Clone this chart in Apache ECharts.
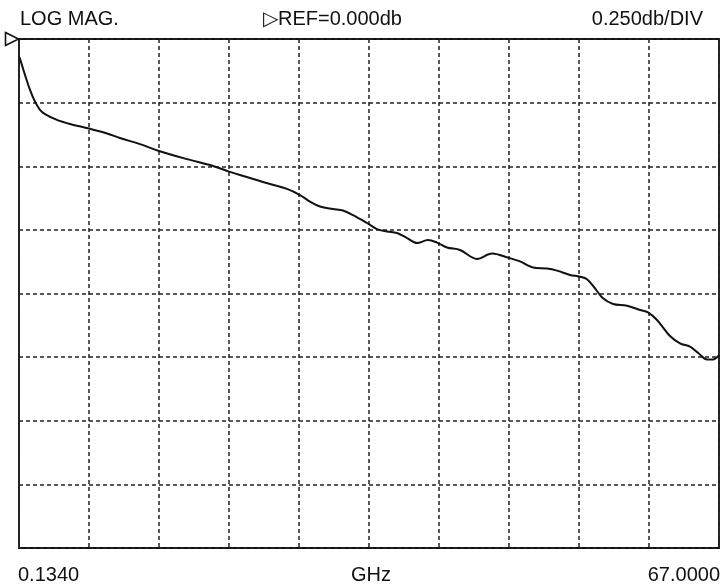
<!DOCTYPE html>
<html>
<head>
<meta charset="utf-8">
<script src="https://cdn.jsdelivr.net/npm/echarts@6/dist/echarts.min.js"></script>
<style>
  html, body { margin: 0; padding: 0; background: #fff; }
  #chart { width: 721px; height: 585px; }
</style>
</head>
<body>
<div id="chart"></div>
<script>
// Frequency (GHz) of trace samples
var freqGHz = [0.134, 0.230, 0.707, 1.185, 1.662, 2.140, 2.618, 3.764, 5.006, 6.821, 8.540, 9.782,
  11.692, 13.507, 16.182, 18.665, 20.194, 22.200, 24.110, 25.734, 26.976, 27.931, 28.886,
  30.128, 31.083, 32.039, 33.376, 34.331, 35.286, 36.242, 37.197, 38.152, 39.203, 40.063,
  41.018, 42.260, 43.883, 45.316, 46.844, 47.991, 49.233, 50.570, 51.525, 52.767, 53.722,
  54.391, 55.155, 55.919, 56.874, 58.212, 59.454, 60.218, 61.078, 62.320, 63.274, 64.230,
  64.994, 65.854, 66.427, 67.000];
// Magnitude (dB) of trace samples
var magDB = [-0.070, -0.078, -0.141, -0.200, -0.246, -0.278, -0.295, -0.318, -0.334, -0.352, -0.371, -0.389,
  -0.413, -0.440, -0.472, -0.499, -0.521, -0.546, -0.570, -0.589, -0.613, -0.639, -0.658,
  -0.668, -0.674, -0.692, -0.723, -0.747, -0.756, -0.762, -0.782, -0.802, -0.790, -0.800,
  -0.819, -0.829, -0.864, -0.843, -0.859, -0.874, -0.898, -0.902, -0.910, -0.927, -0.934,
  -0.944, -0.980, -1.019, -1.041, -1.048, -1.065, -1.074, -1.104, -1.167, -1.196, -1.209,
  -1.233, -1.259, -1.259, -1.242];
// Axis settings
var freqStart = 0.134, freqStop = 67.0;
var refLevel = 0.0, dbPerDiv = 0.25, yDivs = 8, xDivs = 10;
// Texts
var topLeftText = 'LOG MAG.';
var topCenterText = '\u25B7REF=0.000db';
var topRightText = '0.250db/DIV';
var bottomLeftText = '0.1340';
var bottomCenterText = 'GHz';
var bottomRightText = '67.0000';

var points = freqGHz.map(function (f, i) { return [f, magDB[i]]; });
var FONT = '"Liberation Sans", Arial, Helvetica, sans-serif';
var gridLine = { show: true, lineStyle: { color: '#222', width: 1.5, type: [4, 3] } };

var chart = echarts.init(document.getElementById('chart'), null, { renderer: 'canvas' });
chart.setOption({
  backgroundColor: '#ffffff',
  animation: false,
  grid: { left: 19, top: 39, width: 700, height: 509, show: true, borderColor: '#111', borderWidth: 1.8, backgroundColor: 'transparent' },
  xAxis: [
    { type: 'value', min: freqStart, max: freqStop, position: 'bottom',
      axisLine: { show: false }, axisTick: { show: false }, axisLabel: { show: false }, splitLine: { show: false } },
    { type: 'value', min: 0, max: xDivs, interval: 1, position: 'top',
      axisLine: { show: false }, axisTick: { show: false }, axisLabel: { show: false }, splitLine: gridLine }
  ],
  yAxis: {
    type: 'value', min: refLevel - dbPerDiv * yDivs, max: refLevel, interval: dbPerDiv,
    axisLine: { show: false }, axisTick: { show: false }, axisLabel: { show: false }, splitLine: gridLine
  },
  series: [{
    type: 'line', xAxisIndex: 0, data: points, showSymbol: false, smooth: 0.35,
    lineStyle: { color: '#111', width: 2 },
    markPoint: {
      symbol: 'path://M0,0 L12,6 L0,12 Z', symbolSize: [13, 13], symbolOffset: [-7, 0],
      itemStyle: { color: '#fff', borderColor: '#111', borderWidth: 1.6 },
      label: { show: false },
      data: [{ coord: [freqStart, refLevel] }]
    }
  }],
  graphic: [
    { type: 'text', left: 20, top: 9, style: { text: topLeftText, font: '20px ' + FONT, fill: '#111' } },
    { type: 'text', left: 263, top: 9, style: { text: topCenterText, font: '20px ' + FONT, fill: '#111' } },
    { type: 'text', right: 18, top: 9, style: { text: topRightText, font: '20px ' + FONT, fill: '#111' } },
    { type: 'text', left: 18, top: 565, style: { text: bottomLeftText, font: '20px ' + FONT, fill: '#111' } },
    { type: 'text', left: 351, top: 565, style: { text: bottomCenterText, font: '20px ' + FONT, fill: '#111' } },
    { type: 'text', right: 1, top: 565, style: { text: bottomRightText, font: '20px ' + FONT, fill: '#111' } }
  ]
});
</script>
</body>
</html>
